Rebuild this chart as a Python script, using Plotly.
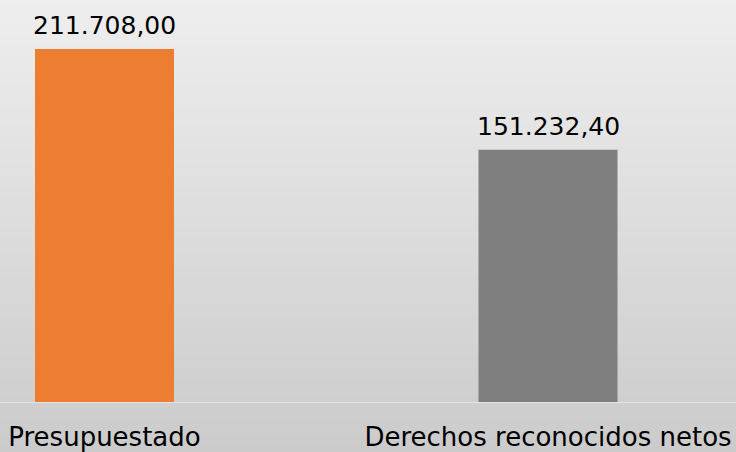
import plotly.graph_objects as go

categories = ["Presupuestado", "Derechos reconocidos netos"]
values = [211708.00, 151232.40]
bar_colors = ["#ED7D31", "#7F7F7F"]

W, H = 736, 452
MB = 50
plot_h = H - MB

x_pos = list(range(len(categories)))

fig = go.Figure()
fig.add_trace(go.Bar(
    x=x_pos, y=values, width=0.3134,
    marker=dict(color=bar_colors, line=dict(width=0)),
    hoverinfo="skip",
))

# value labels
for xi, v in zip(x_pos, values):
    fig.add_annotation(
        x=xi, y=v, xref="x", yref="y",
        text=f"{v:,.2f}".replace(",", "X").replace(".", ",").replace("X", "."),
        showarrow=False, yanchor="bottom", yshift=7,
        font=dict(family="DejaVu Sans", size=25, color="#000000"),
    )

# gradient background bands
n = 80
top_c = (238, 238, 238)
bot_c = (203, 203, 203)
y_top = 1.0
y_bot = -MB / plot_h
for i in range(n):
    t = (i + 0.5) / n
    c = tuple(round(top_c[k] + (bot_c[k] - top_c[k]) * t) for k in range(3))
    y1 = y_top - (y_top - y_bot) * i / n
    y0 = y_top - (y_top - y_bot) * (i + 1) / n
    fig.add_shape(type="rect", xref="paper", yref="paper",
                  x0=0, x1=1, y0=y0 - 0.002, y1=y1,
                  fillcolor=f"rgb{c}", line=dict(width=0), layer="below")

scale = 443.5
xmin = -104.5 / scale
xmax = (W - 104.5) / scale

fig.update_layout(
    width=W, height=H,
    margin=dict(l=0, r=0, t=0, b=MB, pad=0),
    paper_bgcolor="#d8d8d8",
    plot_bgcolor="rgba(0,0,0,0)",
    separators=",.",
    showlegend=False,
    font=dict(family="DejaVu Sans", size=25, color="#000000"),
    xaxis=dict(
        range=[xmin, xmax], tickvals=x_pos, ticktext=categories,
        showgrid=False, zeroline=False, showline=True,
        linecolor="#e4e4e4", linewidth=1,
        ticks="outside", ticklen=12, tickcolor="rgba(0,0,0,0)",
        tickfont=dict(family="DejaVu Sans", size=26, color="#000000"),
        fixedrange=True,
    ),
    yaxis=dict(
        range=[0, values[0] * plot_h / 353],
        visible=False, showgrid=False, zeroline=False, fixedrange=True,
    ),
)

fig.write_html("out.html", config={"displayModeBar": False},
               post_script="document.body.style.margin='0';")
